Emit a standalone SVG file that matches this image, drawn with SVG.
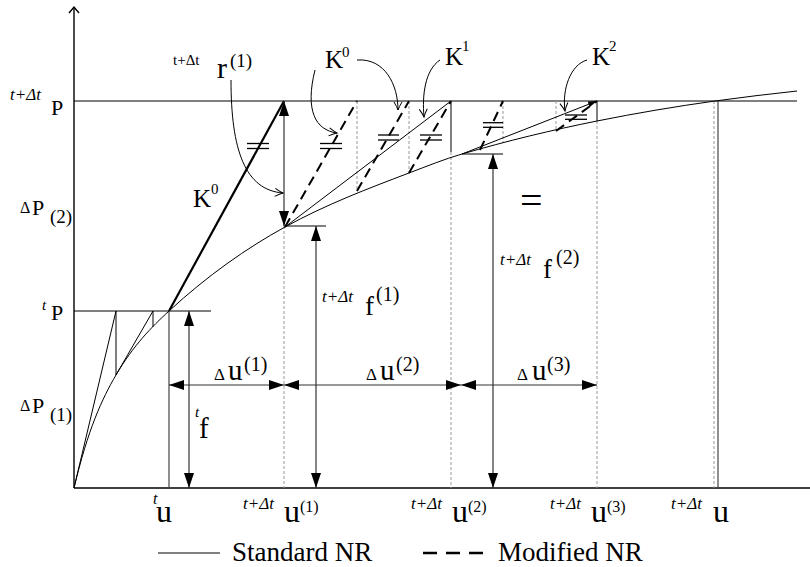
<svg xmlns="http://www.w3.org/2000/svg" width="810" height="567" viewBox="0 0 810 567">
<defs>
<marker id="ah" markerUnits="userSpaceOnUse" markerWidth="15" markerHeight="10" refX="15" refY="5" orient="auto-start-reverse"><path d="M0,0 L15,5 L0,10 z" fill="#000"/></marker>
<marker id="sa" markerUnits="userSpaceOnUse" markerWidth="9" markerHeight="6" refX="9" refY="3" orient="auto"><path d="M0,0 L9,3 L0,6 z" fill="#000"/></marker>
<marker id="oa" markerUnits="userSpaceOnUse" markerWidth="10" markerHeight="10" refX="8" refY="4" orient="auto" overflow="visible"><path d="M0,0 Q5,3 8,4 Q5,5 0,8" fill="none" stroke="#000" stroke-width="1"/></marker>
</defs>
<style>
.ax{stroke:#000;stroke-width:1.4;fill:none}
.thin{stroke:#000;stroke-width:1;fill:none}
.gv{stroke:#444;stroke-width:1.2;fill:none}
.thick{stroke:#000;stroke-width:2.2;fill:none}
.mod{stroke:#000;stroke-width:2;stroke-dasharray:10 6;fill:none}
.grid{stroke:#999;stroke-width:1;stroke-dasharray:3 2;fill:none}
.arr{stroke:#333;stroke-width:1.2;fill:none;marker-start:url(#ah);marker-end:url(#ah)}
.ca{stroke:#000;stroke-width:1;fill:none;marker-end:url(#oa)}
.eq{stroke:#000;stroke-width:1.3}
text{font-family:"Liberation Serif","Times New Roman",serif;fill:#000}
.it{font-style:italic}
</style>
<rect width="810" height="567" fill="#fff"/>

<g id="axes">
<line class="ax" x1="74" y1="488" x2="810" y2="488"/>
<line class="ax" x1="74" y1="488" x2="74" y2="8"/>
<path class="ax" d="M69,13 L74,7 L79,13"/>
<line class="thin" x1="74" y1="101" x2="797" y2="101"/>
<line class="thin" x1="74" y1="311" x2="211" y2="311"/>
<line class="thin" x1="284" y1="226" x2="326" y2="226"/>
<line class="thin" x1="462" y1="154" x2="503" y2="154"/>
</g>

<g id="guides">
<line class="grid" x1="284" y1="226" x2="284" y2="488"/>
<line class="grid" x1="357" y1="101" x2="357" y2="191"/>
<line class="grid" x1="409" y1="101" x2="409" y2="173"/>
<line class="grid" x1="451" y1="152" x2="451" y2="488"/>
<line class="grid" x1="503" y1="101" x2="503" y2="143"/>
<line class="grid" x1="556" y1="101" x2="556" y2="131"/>
<line class="grid" x1="597" y1="121" x2="597" y2="488"/>
<line class="grid" x1="714" y1="101" x2="714" y2="488"/>
<line class="gv" x1="169" y1="311" x2="169" y2="488"/>
<line class="gv" x1="718" y1="101" x2="718" y2="488"/>
</g>

<g id="curve">
<path class="thin" d="M74,488 C88,429.2 102,398.8 116,375 C133.67,345 151.33,327.3 169,311 C207.67,275.4 246.33,248.3 285,227 C326.33,204.3 367.67,188.7 409,173 C426.67,166.3 444.33,159.1 462,154 C507,140.95 552,130 597,121 C636.33,113.1 675.67,106.5 715,101 C742.33,97.2 769.67,94 797,91"/>
</g>

<g id="standard-nr">
<line class="thin" x1="74" y1="488" x2="116" y2="311"/>
<line class="thin" x1="116" y1="311" x2="116" y2="375"/>
<line class="thin" x1="116" y1="375" x2="153" y2="311"/>
<line class="thin" x1="153" y1="311" x2="153" y2="327"/>
<line class="thick" x1="169" y1="311" x2="284" y2="101"/>
<line class="thin" x1="285" y1="227" x2="451" y2="101"/>
<line class="thin" x1="451" y1="101" x2="451" y2="152"/>
<line class="thin" x1="462" y1="154" x2="597" y2="101" marker-end="url(#sa)"/>
<line class="thin" x1="597" y1="101" x2="597" y2="121"/>
</g>

<g id="modified-nr">
<line class="mod" x1="285" y1="227" x2="357" y2="101"/>
<line class="mod" x1="357" y1="191" x2="409" y2="101"/>
<line class="mod" x1="409" y1="173" x2="451" y2="101"/>
<line class="mod" x1="480" y1="150" x2="503" y2="101"/>
<line class="mod" x1="556" y1="131" x2="597" y2="101"/>
</g>

<g id="neq-marks">
<line class="eq" x1="247" y1="143.5" x2="269" y2="143.5"/><line class="eq" x1="247" y1="148.5" x2="269" y2="148.5"/>
<line class="eq" x1="320" y1="143.5" x2="342" y2="143.5"/><line class="eq" x1="320" y1="148.5" x2="342" y2="148.5"/>
<line class="eq" x1="378" y1="135" x2="399" y2="135"/><line class="eq" x1="378" y1="140" x2="399" y2="140"/>
<line class="eq" x1="420" y1="135" x2="442" y2="135"/><line class="eq" x1="420" y1="140" x2="442" y2="140"/>
<line class="eq" x1="483" y1="122.7" x2="503" y2="122.7"/><line class="eq" x1="483" y1="127.3" x2="503" y2="127.3"/>
<line class="eq" x1="565" y1="115" x2="587" y2="115"/><line class="eq" x1="565" y1="119.3" x2="587" y2="119.3"/>
</g>

<g id="connectors">
<line class="arr" x1="284" y1="101" x2="284" y2="226"/>
<line class="arr" x1="189" y1="311" x2="189" y2="488"/>
<line class="arr" x1="316" y1="226" x2="316" y2="488"/>
<line class="arr" x1="493" y1="154" x2="493" y2="488"/>
<line class="arr" x1="169" y1="385" x2="284" y2="385"/>
<line class="arr" x1="284" y1="385" x2="461" y2="385"/>
<line class="arr" x1="461" y1="385" x2="597" y2="385"/>
<path class="ca" d="M231,80 C231,150 245,190 283,193"/>
<path class="ca" d="M315,70 C305,110 315,130 337,133"/>
<path class="ca" d="M357,60 C385,58 398,85 398,110"/>
<path class="ca" d="M440,60 C425,70 422,95 424,117"/>
<path class="ca" d="M587,60 C570,65 562,90 565,111"/>
</g>

<g id="labels">
<text id="lbl-r1"><tspan x="173" y="65" font-size="15">t+Δt</tspan><tspan x="217" y="78" font-size="30">r</tspan><tspan x="230" y="67" font-size="19">(1)</tspan></text>
<text id="lbl-P"><tspan class="it" x="10" y="100" font-size="17">t+Δt</tspan><tspan x="51" y="115" font-size="22">P</tspan></text>
<text id="lbl-dP2"><tspan x="20" y="213" font-size="16">Δ</tspan><tspan x="32" y="215" font-size="22">P</tspan><tspan x="50" y="223" font-size="19">(2)</tspan></text>
<text id="lbl-tP"><tspan class="it" x="42" y="310" font-size="15">t</tspan><tspan x="51" y="320" font-size="22">P</tspan></text>
<text id="lbl-dP1"><tspan x="20" y="411" font-size="16">Δ</tspan><tspan x="32" y="413" font-size="22">P</tspan><tspan x="50" y="421" font-size="19">(1)</tspan></text>
<text id="lbl-K0a"><tspan x="193" y="207" font-size="25">K</tspan><tspan x="211" y="194" font-size="15">0</tspan></text>
<text id="lbl-K0b"><tspan x="325" y="68" font-size="25">K</tspan><tspan x="342" y="57" font-size="15">0</tspan></text>
<text id="lbl-K1"><tspan x="445" y="65" font-size="25">K</tspan><tspan x="462" y="51" font-size="15">1</tspan></text>
<text id="lbl-K2"><tspan x="592" y="65" font-size="25">K</tspan><tspan x="609" y="51" font-size="15">2</tspan></text>
<text id="lbl-du1"><tspan x="214" y="380" font-size="17">Δ</tspan><tspan x="228" y="380" font-size="29">u</tspan><tspan x="244" y="371" font-size="20">(1)</tspan></text>
<text id="lbl-du2"><tspan x="366" y="380" font-size="17">Δ</tspan><tspan x="380" y="380" font-size="29">u</tspan><tspan x="396" y="371" font-size="20">(2)</tspan></text>
<text id="lbl-du3"><tspan x="517" y="380" font-size="17">Δ</tspan><tspan x="532" y="380" font-size="29">u</tspan><tspan x="547" y="371" font-size="20">(3)</tspan></text>
<text id="lbl-tf"><tspan class="it" x="195" y="417" font-size="15">t</tspan><tspan x="199" y="438" font-size="29">f</tspan></text>
<text id="lbl-f1"><tspan class="it" x="322" y="302" font-size="17">t+Δt</tspan><tspan x="365" y="315" font-size="27">f</tspan><tspan x="376" y="301" font-size="20">(1)</tspan></text>
<text id="lbl-f2"><tspan class="it" x="500" y="265" font-size="17">t+Δt</tspan><tspan x="543" y="278" font-size="27">f</tspan><tspan x="556" y="264" font-size="20">(2)</tspan></text>
<text id="lbl-eq" x="520" y="214" font-size="40">=</text>
<text id="lbl-tu"><tspan class="it" x="153" y="504" font-size="16">t</tspan><tspan x="156" y="522" font-size="32">u</tspan></text>
<text id="lbl-u1"><tspan class="it" x="243" y="509" font-size="17">t+Δt</tspan><tspan x="284" y="522" font-size="32">u</tspan><tspan x="300" y="512" font-size="16">(1)</tspan></text>
<text id="lbl-u2"><tspan class="it" x="411" y="509" font-size="17">t+Δt</tspan><tspan x="452" y="522" font-size="32">u</tspan><tspan x="468" y="512" font-size="16">(2)</tspan></text>
<text id="lbl-u3"><tspan class="it" x="550" y="509" font-size="17">t+Δt</tspan><tspan x="591" y="522" font-size="32">u</tspan><tspan x="607" y="512" font-size="16">(3)</tspan></text>
<text id="lbl-u"><tspan class="it" x="671" y="509" font-size="17">t+Δt</tspan><tspan x="713" y="522" font-size="32">u</tspan></text>
</g>

<g id="legend">
<line class="thin" x1="158" y1="553" x2="220" y2="553" stroke-width="1.2"/>
<text x="232" y="561" font-size="27">Standard NR</text>
<line x1="423" y1="553" x2="483" y2="553" stroke="#000" stroke-width="2.4" stroke-dasharray="14 9"/>
<text x="498" y="561" font-size="27">Modified NR</text>
</g>
</svg>
